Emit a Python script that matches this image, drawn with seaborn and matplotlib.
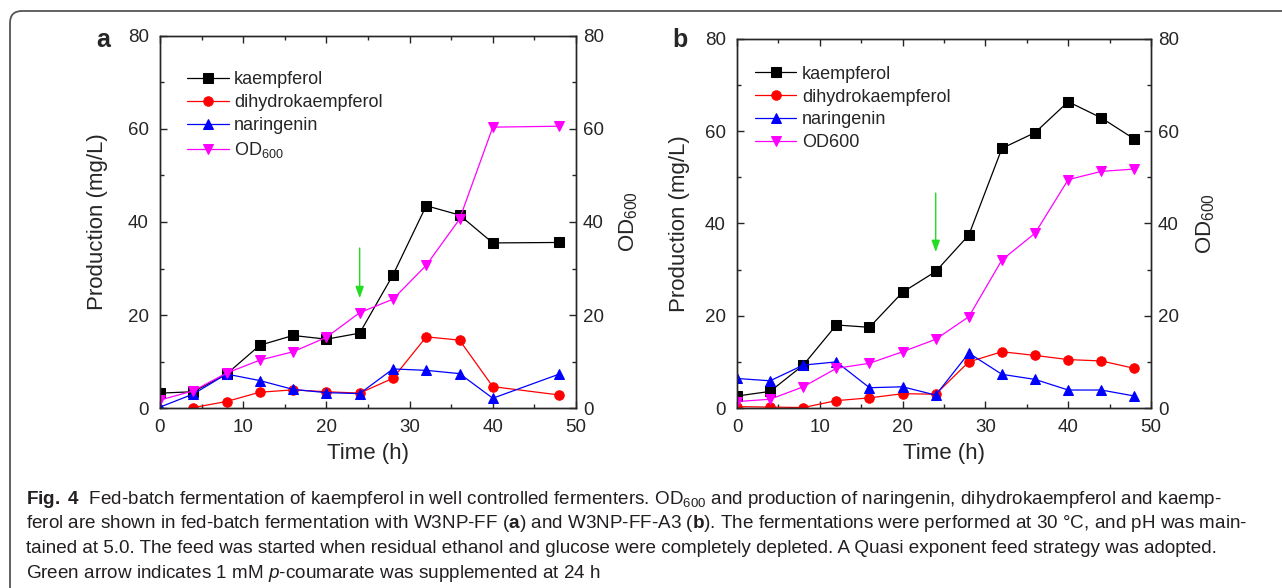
import matplotlib
matplotlib.use('Agg')
import matplotlib.pyplot as plt
from matplotlib.patches import FancyBboxPatch
from matplotlib.ticker import MultipleLocator
import seaborn as sns

# panel a (W3NP-FF)
time_a = [0, 4, 8, 12, 16, 20, 24, 28, 32, 36, 40, 48]
time_dhk_a = [4, 8, 12, 16, 20, 24, 28, 32, 36, 40, 48]
kaempferol_a = [3.2, 3.5, 7.3, 13.5, 15.6, 14.8, 16.1, 28.6, 43.5, 41.5, 35.5, 35.6]
dihydrokaempferol_a = [0.1, 1.4, 3.4, 3.9, 3.5, 3.2, 6.4, 15.3, 14.6, 4.6, 2.8]
naringenin_a = [0.2, 3.0, 7.3, 5.9, 4.0, 3.3, 3.1, 8.4, 8.1, 7.4, 2.1, 7.3]
od600_a = [1.7, 3.7, 7.5, 10.3, 12.1, 15.2, 20.5, 23.4, 30.7, 40.6, 60.4, 60.6]

# panel b (W3NP-FF-A3)
time_b = [0, 4, 8, 12, 16, 20, 24, 28, 32, 36, 40, 44, 48]
kaempferol_b = [2.6, 3.6, 9.3, 18.0, 17.5, 25.1, 29.6, 37.5, 56.3, 59.7, 66.4, 62.9, 58.3]
dihydrokaempferol_b = [0.3, 0.2, 0.1, 1.6, 2.2, 3.1, 3.0, 10.0, 12.2, 11.4, 10.5, 10.2, 8.6]
naringenin_b = [6.4, 5.9, 9.3, 10.0, 4.4, 4.6, 2.8, 11.9, 7.3, 6.2, 3.9, 3.9, 2.6]
od600_b = [1.4, 1.9, 4.6, 8.6, 9.7, 12.2, 14.9, 19.8, 32.1, 37.9, 49.5, 51.3, 51.8]

# green arrow: p-coumarate added at 24 h (start, end heights)
arrow_time = 24
arrow_a = (34.4, 23.6)
arrow_b = (46.6, 33.8)

caption_lines = [
    r"$\mathbf{Fig.\ 4}$  Fed-batch fermentation of kaempferol in well controlled fermenters. OD$_{600}$ and production of naringenin, dihydrokaempferol and kaemp-",
    r"ferol are shown in fed-batch fermentation with W3NP-FF ($\mathbf{a}$) and W3NP-FF-A3 ($\mathbf{b}$). The fermentations were performed at 30 °C, and pH was main-",
    "tained at 5.0. The feed was started when residual ethanol and glucose were completely depleted. A Quasi exponent feed strategy was adopted.",
    r"Green arrow indicates 1 mM $\mathit{p}$-coumarate was supplemented at 24 h",
]

sns.set_style('ticks')
plt.rcParams['font.family'] = ['Liberation Sans', 'DejaVu Sans']
plt.rcParams['mathtext.fontset'] = 'custom'
plt.rcParams['mathtext.rm'] = 'Liberation Sans'
plt.rcParams['mathtext.it'] = 'Liberation Sans:italic'
plt.rcParams['mathtext.bf'] = 'Liberation Sans:bold'

fig = plt.figure(figsize=(12.82, 5.88), dpi=100)


def draw_panel(rect, t, kae, t_dhk, dhk, nar, od, od_label, letter, arrow, leg_xy,
               lab_left, lab_right, letter_xy):
    ax = fig.add_axes(rect)
    ax2 = ax.twinx()
    style = dict(linewidth=0.9, markersize=6.8)
    sns.lineplot(x=t, y=kae, ax=ax, color='black', marker='s', mec='black', label='kaempferol', **style)
    sns.lineplot(x=t_dhk, y=dhk, ax=ax, color='red', marker='o', mec='red', label='dihydrokaempferol', **style)
    sns.lineplot(x=t, y=nar, ax=ax, color='blue', marker='^', mec='blue', label='naringenin', **style)
    sns.lineplot(x=t, y=od, ax=ax2, color='magenta', marker='v', mec='magenta', label=od_label, legend=False, **style)

    for a in (ax, ax2):
        a.set_xlim(0, 50)
        a.set_ylim(0, 80)
        a.yaxis.set_major_locator(MultipleLocator(20))
        a.yaxis.set_minor_locator(MultipleLocator(10))
        for s in a.spines.values():
            s.set_linewidth(1.0)
    ax.xaxis.set_major_locator(MultipleLocator(10))
    ax.xaxis.set_minor_locator(MultipleLocator(5))
    ax.tick_params(which='both', direction='in', top=True, right=False, labelsize=13.5, width=1.0)
    ax.tick_params(which='major', length=5)
    ax.tick_params(which='minor', length=3)
    ax.tick_params(axis='y', pad=8)
    ax.tick_params(axis='x', pad=8)
    ax2.tick_params(which='both', direction='in', labelsize=13.5, width=1.0, pad=5)
    ax2.tick_params(which='major', length=5)
    ax2.tick_params(which='minor', length=3)

    ax.set_xlabel('Time (h)', fontsize=16, labelpad=5)
    ax.set_ylabel('Production (mg/L)', fontsize=16)
    ax2.set_ylabel('OD$_{600}$', fontsize=16)
    ax.yaxis.set_label_coords(lab_left, 0.5)
    ax2.yaxis.set_label_coords(lab_right, 0.5)

    ax.annotate('', xy=(arrow_time, arrow[1]), xytext=(arrow_time, arrow[0]),
                arrowprops=dict(arrowstyle='-|>,head_width=0.25,head_length=0.7', color='#22dd22',
                                lw=1.0, mutation_scale=10, shrinkA=0, shrinkB=0))

    h1, l1 = ax.get_legend_handles_labels()
    h2 = ax2.get_lines()[:1]
    ax.legend(h1 + h2, l1 + [od_label], loc='upper left', bbox_to_anchor=leg_xy,
              frameon=False, fontsize=13, borderpad=0, borderaxespad=0,
              labelspacing=0.33, handlelength=2.3, handletextpad=0.3)
    ax.text(letter_xy[0], letter_xy[1], letter, transform=ax.transAxes, fontsize=18,
            fontweight='bold', ha='center', va='baseline')
    return ax


draw_panel([0.1248, 0.3061, 0.3245, 0.6327], time_a, kaempferol_a, time_dhk_a,
           dihydrokaempferol_a, naringenin_a, od600_a, 'OD$_{600}$', 'a', arrow_a, (0.065, 0.905),
           -0.125, 1.099, (-0.137, 0.970))
draw_panel([0.5749, 0.3061, 0.3229, 0.6276], time_b, kaempferol_b, time_b,
           dihydrokaempferol_b, naringenin_b, od600_b, 'OD600', 'b', arrow_b, (0.043, 0.928),
           -0.114, 1.106, (-0.138, 0.978))

# caption
baselines = [504, 528.5, 553, 577.5]
for line, yb in zip(caption_lines, baselines):
    fig.text(26 / 1282, 1 - yb / 588, line, fontsize=13.6, color='#231f20',
             ha='left', va='baseline')

# rounded frame around figure
frame = FancyBboxPatch((0.1, -1.0), 14, 6.77, boxstyle='round,pad=0,rounding_size=0.12',
                       transform=fig.dpi_scale_trans, fill=False, ec='#555555', lw=1.3)
fig.add_artist(frame)

fig.savefig('out.png', dpi=100)
